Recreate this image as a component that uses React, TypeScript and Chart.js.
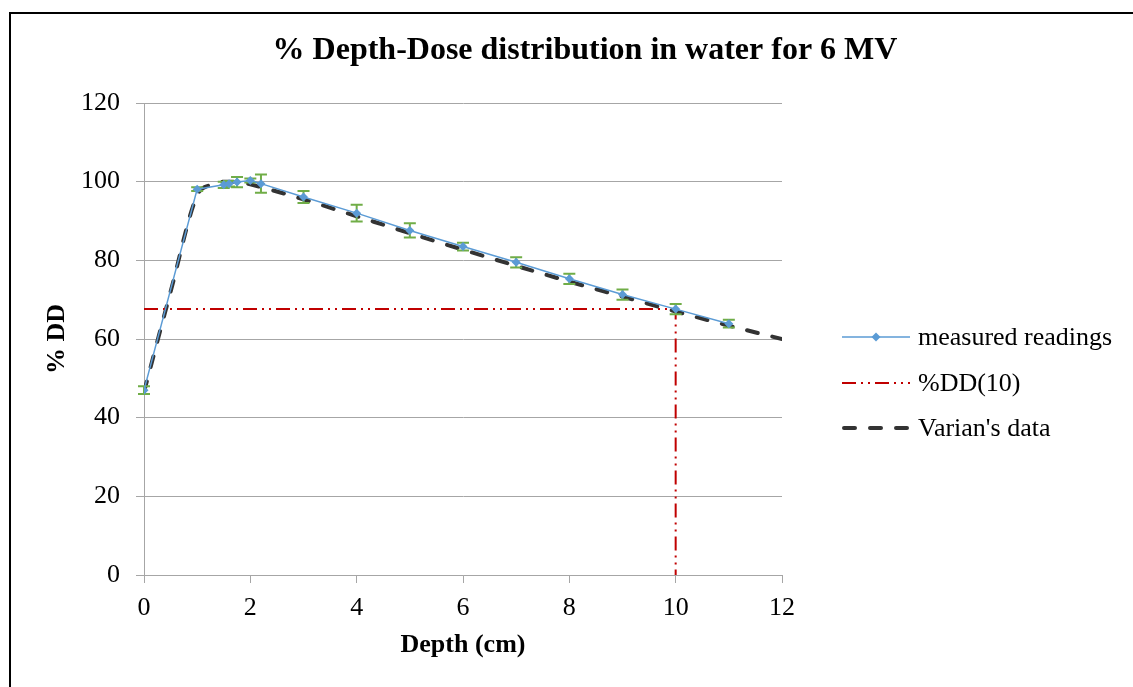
import { useEffect, useRef } from "react";
import { Chart, registerables } from "chart.js";

Chart.register(...registerables);

const chartTitle = "% Depth-Dose distribution in water for 6 MV";
const xAxisTitle = "Depth (cm)";
const yAxisTitle = "% DD";
const seriesLabels = ["measured readings", "%DD(10)", "Varian's data"];

const measuredDepth = [0, 1, 1.5, 1.6, 1.75, 2, 2.2, 3, 4, 5, 6, 7, 8, 9, 10, 11];
const measuredDose = [47, 98.1, 99.2, 99.5, 99.9, 100.3, 99.5, 96.1, 92.0, 87.6, 83.5, 79.5, 75.3, 71.3, 67.6, 63.9];
const measuredError = [1.0, 0.5, 0.8, 0.7, 1.3, 0.5, 2.3, 1.5, 2.1, 1.8, 1.0, 1.3, 1.3, 1.3, 1.3, 1.0];

const varianDepth = [0, 0.5, 1, 1.25, 1.5, 1.75, 2, 3, 4, 5, 6, 7, 8, 9, 10, 11, 12];
const varianDose = [46.5, 72, 96.5, 99.2, 100, 100, 99.3, 95.5, 91.2, 86.9, 82.7, 78.6, 74.6, 70.8, 67.0, 63.4, 60.0];

const dd10Depth = [0, 10, 10];
const dd10Dose = [67.6, 67.6, 0];

const xMin = 0, xMax = 12, xStep = 2;
const yMin = 0, yMax = 120, yStep = 20;

const FONT = "'Liberation Serif', 'Times New Roman', serif";
const BLUE = "#5B9BD5";
const RED = "#C00000";
const DARK = "#333333";
const GREEN = "#70AD47";
const GRID = "#A6A6A6";
const RED_DASH = [14, 5, 2, 5, 2, 5];
const DARK_DASH = [11, 15];

const toPoints = (xs: number[], ys: number[]) => xs.map((x, i) => ({ x, y: ys[i] }));

const errorBarPlugin = {
  id: "errorBars",
  beforeDatasetDraw(chart: any, args: any) {
    if (args.index !== 0) return;
    const { ctx, scales } = chart;
    const x = scales.x, y = scales.y;
    ctx.save();
    ctx.strokeStyle = GREEN;
    ctx.lineWidth = 2;
    measuredDepth.forEach((d, i) => {
      const px = x.getPixelForValue(d);
      const top = y.getPixelForValue(measuredDose[i] + measuredError[i]);
      const bot = y.getPixelForValue(measuredDose[i] - measuredError[i]);
      ctx.beginPath();
      ctx.moveTo(px, top);
      ctx.lineTo(px, bot);
      ctx.moveTo(px - 6, top);
      ctx.lineTo(px + 6, top);
      ctx.moveTo(px - 6, bot);
      ctx.lineTo(px + 6, bot);
      ctx.stroke();
    });
    ctx.restore();
  },
};

const decorPlugin = {
  id: "decor",
  afterDraw(chart: any) {
    const { ctx } = chart;
    ctx.save();
    // frame
    ctx.strokeStyle = "#000";
    ctx.lineWidth = 2;
    ctx.strokeRect(10, 13, 1300, 900);
    // title
    ctx.fillStyle = "#000";
    ctx.font = `bold 32px ${FONT}`;
    ctx.textAlign = "center";
    ctx.textBaseline = "alphabetic";
    ctx.fillText(chartTitle, 585, 59);
    // legend
    const lx1 = 842, lx2 = 910, tx = 918;
    const rows = [337, 383, 428];
    ctx.font = `26px ${FONT}`;
    ctx.textAlign = "left";
    ctx.textBaseline = "middle";
    // measured
    ctx.strokeStyle = BLUE;
    ctx.lineWidth = 1.5;
    ctx.setLineDash([]);
    ctx.beginPath();
    ctx.moveTo(lx1, rows[0]);
    ctx.lineTo(lx2, rows[0]);
    ctx.stroke();
    const cx = (lx1 + lx2) / 2;
    ctx.fillStyle = BLUE;
    ctx.beginPath();
    ctx.moveTo(cx, rows[0] - 4.5);
    ctx.lineTo(cx + 4.5, rows[0]);
    ctx.lineTo(cx, rows[0] + 4.5);
    ctx.lineTo(cx - 4.5, rows[0]);
    ctx.closePath();
    ctx.fill();
    // dd10
    ctx.strokeStyle = RED;
    ctx.lineWidth = 2;
    ctx.setLineDash(RED_DASH);
    ctx.beginPath();
    ctx.moveTo(lx1, rows[1]);
    ctx.lineTo(lx2, rows[1]);
    ctx.stroke();
    // varian
    ctx.strokeStyle = DARK;
    ctx.lineWidth = 4;
    ctx.lineCap = "round";
    ctx.setLineDash(DARK_DASH);
    ctx.beginPath();
    ctx.moveTo(lx1 + 2, rows[2]);
    ctx.lineTo(lx2, rows[2]);
    ctx.stroke();
    ctx.setLineDash([]);
    ctx.fillStyle = "#000";
    seriesLabels.forEach((t, i) => ctx.fillText(t, tx, rows[i] + 1));
    ctx.restore();
  },
};

export default function App() {
  const ref = useRef<HTMLCanvasElement>(null);
  useEffect(() => {
    if (!ref.current) return;
    Chart.defaults.font.family = FONT;
    Chart.defaults.color = "#000";
    const chart = new Chart(ref.current, {
      type: "line",
      data: {
        datasets: [
          {
            label: seriesLabels[0],
            data: toPoints(measuredDepth, measuredDose),
            borderColor: BLUE,
            backgroundColor: BLUE,
            borderWidth: 1.5,
            pointStyle: "rectRot",
            pointRadius: 4.5,
            pointBorderWidth: 0,
            pointBackgroundColor: BLUE,
            tension: 0,
          },
          {
            label: seriesLabels[1],
            data: toPoints(dd10Depth, dd10Dose),
            borderColor: RED,
            borderWidth: 2,
            borderDash: RED_DASH,
            pointRadius: 0,
            tension: 0,
          },
          {
            label: seriesLabels[2],
            data: toPoints(varianDepth, varianDose),
            borderColor: DARK,
            borderWidth: 4,
            borderDash: DARK_DASH,
            borderCapStyle: "round",
            pointRadius: 0,
            cubicInterpolationMode: "monotone",
          },
        ],
      },
      options: {
        animation: false,
        responsive: false,
        layout: { padding: { left: 12, top: 103, right: 351, bottom: 0 } },
        plugins: { legend: { display: false }, title: { display: false }, tooltip: { enabled: false } },
        scales: {
          x: {
            type: "linear",
            min: xMin,
            max: xMax,
            ticks: { stepSize: xStep, padding: 10, font: { size: 26 }, color: "#000" },
            grid: { display: true, drawOnChartArea: false, drawTicks: true, tickLength: 8, color: GRID },
            border: { display: true, color: GRID, width: 1 },
            title: { display: true, text: xAxisTitle, font: { size: 26, weight: "bold" }, color: "#000", padding: { top: 0, bottom: 26 } },
            afterFit: (s: any) => { s.height = 112; },
          },
          y: {
            type: "linear",
            min: yMin,
            max: yMax,
            ticks: { stepSize: yStep, padding: 16, font: { size: 26 }, color: "#000" },
            grid: { color: GRID, tickLength: 8, drawTicks: true },
            border: { display: true, color: GRID, width: 1 },
            title: { display: true, text: yAxisTitle, font: { size: 26, weight: "bold" }, color: "#000", padding: { top: 30, bottom: 0 } },
            afterFit: (s: any) => { s.width = 132; },
          },
        },
      },
      plugins: [errorBarPlugin, decorPlugin],
    } as any);
    return () => chart.destroy();
  }, []);
  return (
    <div style={{ position: "fixed", left: 0, top: 0, width: 1133, height: 687, background: "#fff" }}>
      <canvas ref={ref} width={1133} height={687} style={{ display: "block" }} />
    </div>
  );
}
